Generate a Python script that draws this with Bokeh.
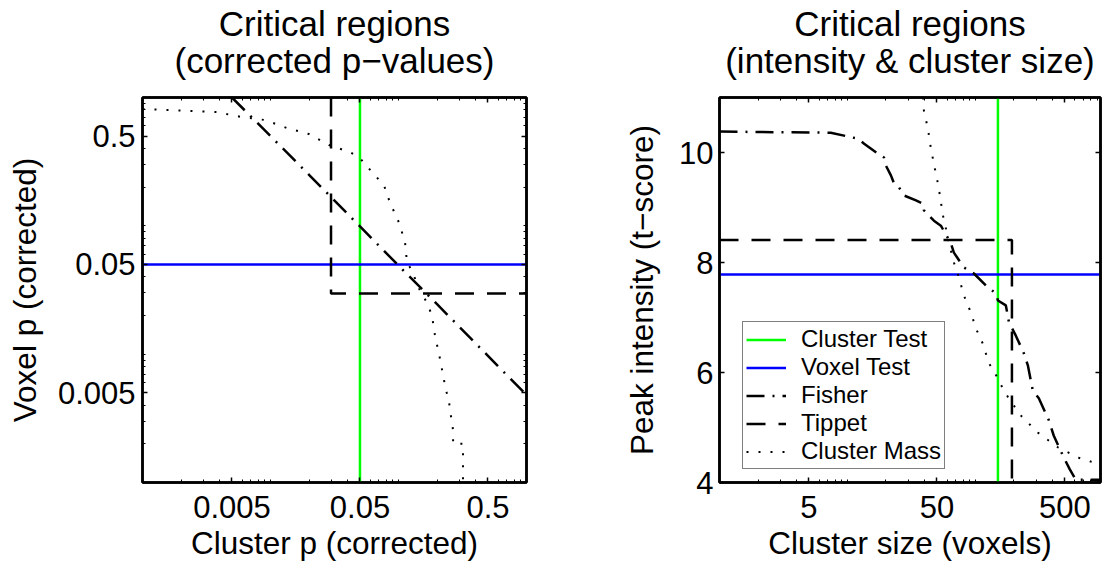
from bokeh.plotting import figure
from bokeh.models import (FixedTicker, LogAxis, LinearAxis, Range1d, Legend,
                          LegendItem, CustomJSTickFormatter)
from bokeh.layouts import row
from bokeh.embed import file_html
from bokeh.resources import INLINE

FONT = "Liberation Sans"

# ---------------- Left panel: corrected p-values ----------------
p_min, p_max = 0.001, 1.0
p_ticks = [0.005, 0.05, 0.5]
p_minor = [m * 10.0 ** e for e in (-3, -2, -1) for m in range(1, 10)] + [1.0]
cluster_test_p = 0.05
voxel_test_p = 0.05
tippett_p = 0.0297

fisher_cluster_p = [0.005, 0.01, 0.02, 0.05, 0.1, 0.2, 0.5, 1.0]
fisher_voxel_p = [1.0, 0.50, 0.25, 0.099, 0.049, 0.0245, 0.0097, 0.0048]

mass_cluster_p = [0.001, 0.0038, 0.0060, 0.0091, 0.0135, 0.0200, 0.0286, 0.0418,
                  0.0500, 0.0621, 0.0770, 0.0857, 0.1009, 0.1125, 0.1165, 0.127,
                  0.1445, 0.1667, 0.1826, 0.193, 0.211, 0.235, 0.248, 0.252,
                  0.262, 0.267, 0.267, 0.319, 0.319]
mass_voxel_p = [0.813, 0.770, 0.703, 0.667, 0.577, 0.519, 0.426, 0.375,
                0.337, 0.262, 0.207, 0.152, 0.106, 0.0743, 0.0518, 0.0449,
                0.0325, 0.0252, 0.0200, 0.0139, 0.0092, 0.0052, 0.0044, 0.0036,
                0.0030, 0.0025, 0.0020, 0.0020, 0.0010]

# ---------------- Right panel: intensity & cluster size ----------------
size_min, size_max = 1.0, 950.0
t_min, t_max = 4.0, 11.0
size_ticks = [5, 50, 500]
size_minor = [m * 10.0 ** e for e in (0, 1, 2) for m in range(1, 10)]
t_ticks = [4, 6, 8, 10]
cluster_test_size = 150
voxel_test_t = 7.78
tippett_size = 193
tippett_t = 8.41

fisher_size = [1.0, 7.4, 12.1, 13.5, 17.3, 19.3, 20.0, 21.9, 23.1, 24.8, 27.6,
               34.3, 38.9, 39.6, 47.4, 53.7, 64.3, 67.9, 81.3, 97.3, 125, 144.5,
               150, 173, 183, 207, 239, 257, 281, 313, 375, 410, 491, 547, 609, 950]
fisher_t = [10.38, 10.36, 10.25, 10.16, 9.98, 9.91, 9.76, 9.58, 9.44, 9.40, 9.22,
            9.13, 9.07, 8.95, 8.76, 8.67, 8.35, 8.18, 7.91, 7.80, 7.55, 7.44,
            7.31, 7.22, 6.91, 6.67, 6.35, 6.13, 5.67, 5.53, 5.13, 4.85, 4.45, 4.24, 4.05, 4.05]

mass_size = [39.0, 39.6, 42.5, 44.9, 48.2, 50.9, 52.8, 54.7, 56.7, 58.8, 62.1, 67.9,
             74.3, 81.3, 92.2, 101, 114, 127, 145, 164, 180, 226, 307, 441, 643, 798, 950]
mass_t = [11.0, 10.76, 10.44, 10.07, 9.71, 9.44, 9.22, 8.98, 8.76, 8.62, 8.36, 8.00,
          7.73, 7.40, 7.09, 6.80, 6.53, 6.18, 5.95, 5.71, 5.55, 5.22, 4.91, 4.64, 4.45, 4.38, 4.33]

legend_labels = ["Cluster Test", "Voxel Test", "Fisher", "Tippet", "Cluster Mass"]

FISHER_DASH = "18 8 2 8"
TIPPETT_DASH = "19 13"
DOT_DASH = "2 10"


def style_axis(ax, ticks, minor, labels=True):
    ax.ticker = FixedTicker(ticks=ticks, minor_ticks=minor)
    ax.major_tick_in = 5
    ax.major_tick_out = 0
    ax.minor_tick_in = 3 if minor else 0
    ax.minor_tick_out = 0
    ax.axis_line_width = 2.5
    ax.axis_line_color = "black"
    ax.major_tick_line_color = "black"
    ax.major_tick_line_width = 1.5
    ax.minor_tick_line_color = "black"
    ax.minor_tick_line_width = 1
    if labels:
        ax.formatter = CustomJSTickFormatter(code="return tick.toString();")
        ax.major_label_text_font = FONT
        ax.major_label_text_font_size = "31px"
        ax.major_label_text_color = "black"
        ax.axis_label_text_font = FONT
        ax.axis_label_text_font_size = "31.5px"
        ax.axis_label_text_font_style = "normal"
        ax.axis_label_text_color = "black"
    else:
        ax.formatter = CustomJSTickFormatter(code="return '';")
        ax.major_label_text_font_size = "1px"
        ax.major_label_standoff = 0


def make_fig(width, left, right, x_type, x_range, y_type, y_range):
    p = figure(width=width, height=565, x_axis_type=x_type, y_axis_type=y_type,
               x_range=x_range, y_range=y_range, output_backend="svg",
               toolbar_location=None, min_border_left=left, min_border_right=right,
               min_border_top=97, min_border_bottom=83)
    p.title = None
    p.grid.visible = False
    p.outline_line_color = "black"
    p.outline_line_width = 2.5
    p.background_fill_color = "white"
    p.border_fill_color = "white"
    return p


def title_axis(ax, line1, line2):
    # two-line, centred heading carried by the top axis
    ax.axis_label = line1 + "\n" + line2
    ax.axis_label_text_font = FONT
    ax.axis_label_text_font_size = "35px"
    ax.axis_label_text_font_style = "normal"
    ax.axis_label_text_color = "black"
    ax.axis_label_text_line_height = 0.93
    ax.axis_label_standoff = 18
    try:
        ax.axis_label_text_align = "center"
    except Exception:
        pass


# ---------- left figure ----------
p1 = make_fig(560, 142, 34, "log", Range1d(p_min, p_max), "log", Range1d(p_min, p_max))
style_axis(p1.xaxis[0], p_ticks, p_minor)
style_axis(p1.yaxis[0], p_ticks, p_minor)
p1.xaxis[0].axis_label = "Cluster p (corrected)"
p1.yaxis[0].axis_label = "Voxel p (corrected)"
p1.xaxis[0].major_label_standoff = 13
p1.yaxis[0].major_label_standoff = 7
p1.xaxis[0].axis_label_standoff = 4
p1.yaxis[0].axis_label_standoff = 12
top1 = LogAxis()
style_axis(top1, p_ticks, p_minor, labels=False)
title_axis(top1, "Critical regions", "(corrected p\u2212values)")
p1.add_layout(top1, "above")
right1 = LogAxis()
style_axis(right1, p_ticks, p_minor, labels=False)
p1.add_layout(right1, "right")

p1.line([cluster_test_p, cluster_test_p], [p_min, p_max], line_color="#00ff00", line_width=2.5)
p1.line([p_min, p_max], [voxel_test_p, voxel_test_p], line_color="#0000ff", line_width=2.5)
p1.line(fisher_cluster_p, fisher_voxel_p, line_color="black", line_width=2.5, line_dash=FISHER_DASH)
p1.line([tippett_p, tippett_p, p_max], [p_max, tippett_p, tippett_p], line_color="black",
        line_width=2.5, line_dash=TIPPETT_DASH)
p1.line(mass_cluster_p, mass_voxel_p, line_color="black", line_width=2, line_dash=DOT_DASH)

# ---------- right figure ----------
p2 = make_fig(542, 159, 2, "log", Range1d(size_min, size_max), "linear", Range1d(t_min, t_max))
style_axis(p2.xaxis[0], size_ticks, size_minor)
style_axis(p2.yaxis[0], t_ticks, [])
p2.xaxis[0].axis_label = "Cluster size (voxels)"
p2.yaxis[0].axis_label = "Peak intensity (t\u2212score)"
p2.xaxis[0].major_label_standoff = 13
p2.yaxis[0].major_label_standoff = 6
p2.xaxis[0].axis_label_standoff = 4
p2.yaxis[0].axis_label_standoff = 16
top2 = LogAxis()
style_axis(top2, size_ticks, size_minor, labels=False)
title_axis(top2, "Critical regions", "(intensity & cluster size)")
p2.add_layout(top2, "above")
right2 = LinearAxis()
style_axis(right2, t_ticks, [], labels=False)
p2.add_layout(right2, "right")

r_ct = p2.line([cluster_test_size, cluster_test_size], [t_min, t_max], line_color="#00ff00", line_width=2.5)
r_vt = p2.line([size_min, size_max], [voxel_test_t, voxel_test_t], line_color="#0000ff", line_width=2.5)
r_fi = p2.line(fisher_size, fisher_t, line_color="black", line_width=2.5, line_dash=FISHER_DASH)
r_ti = p2.line([size_min, tippett_size, tippett_size], [tippett_t, tippett_t, t_min],
               line_color="black", line_width=2.5, line_dash=TIPPETT_DASH)
r_cm = p2.line(mass_size, mass_t, line_color="black", line_width=2, line_dash=DOT_DASH)

legend = Legend(items=[LegendItem(label=l, renderers=[r]) for l, r in
                       zip(legend_labels, [r_ct, r_vt, r_fi, r_ti, r_cm])],
                location=(23, 13))
legend.label_text_font = FONT
legend.label_text_font_size = "24px"
legend.label_text_color = "black"
legend.glyph_width = 40
legend.glyph_height = 27
legend.label_height = 27
legend.spacing = 0
legend.padding = 3
legend.margin = 0
legend.label_standoff = 15
legend.border_line_color = "black"
legend.border_line_width = 1
legend.background_fill_color = "white"
legend.background_fill_alpha = 1.0
p2.add_layout(legend)

layout = row(p1, p2)
open("out.html", "w").write(file_html(layout, INLINE))
